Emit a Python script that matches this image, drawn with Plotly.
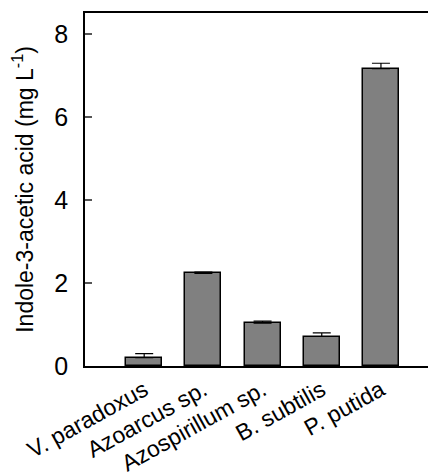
import plotly.graph_objects as go

categories = ["V. paradoxus", "Azoarcus sp.", "Azospirillum sp.", "B. subtilis", "P. putida"]
iaa_values = [0.20, 2.23, 1.03, 0.71, 7.16]
iaa_errors = [0.10, 0.03, 0.05, 0.09, 0.13]
y_ticks = [0, 2, 4, 6, 8]

fig = go.Figure()
fig.add_trace(go.Bar(
    x=list(range(len(categories))),
    y=iaa_values,
    width=0.61,
    marker=dict(color="#808080", line=dict(color="#000000", width=1.5)),
    error_y=dict(type="data", symmetric=False, array=iaa_errors,
                 arrayminus=[0] * len(iaa_errors),
                 color="#000000", thickness=1.2, width=9),
))

fig.update_layout(
    width=428, height=464,
    margin=dict(l=77, r=0, t=5, b=106),
    paper_bgcolor="white", plot_bgcolor="white",
    font=dict(family="Liberation Sans, Arial, sans-serif", color="#000000"),
    showlegend=False,
    bargap=0,
)
fig.update_xaxes(
    range=[-1, 4.93],
    automargin=False,
    tickmode="array",
    tickvals=list(range(len(categories))),
    ticktext=categories,
    tickangle=-29,
    tickfont=dict(size=23),
    showline=True, linecolor="#000000", linewidth=1.5, mirror=True,
    ticks="", showgrid=False, zeroline=False,
)
fig.update_yaxes(
    range=[0, 8.5],
    automargin=False,
    tickmode="array",
    tickvals=y_ticks,
    ticktext=[str(v) for v in y_ticks],
    tickfont=dict(size=25),
    ticks="inside", ticklen=7, tickcolor="#555555", tickwidth=1.5,
    ticklabelstandoff=10,
    showline=True, linecolor="#000000", linewidth=1.5,
    showgrid=False, zeroline=False,
    title=dict(text="Indole-3-acetic acid (mg L<sup>-1</sup>)", font=dict(size=23), standoff=15),
)

fig.write_html("out.html")
